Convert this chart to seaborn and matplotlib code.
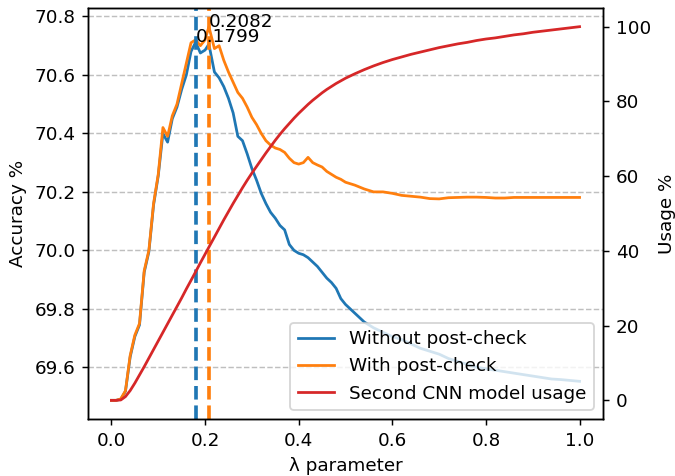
import numpy as np
import matplotlib
matplotlib.use('Agg')
import matplotlib.pyplot as plt
import seaborn as sns

# lambda values (peaks at 0.1799 and 0.2082 included)
lam = [0.00, 0.01, 0.02, 0.03, 0.04, 0.05, 0.06, 0.07, 0.08, 0.09,
       0.10, 0.11, 0.12, 0.13, 0.14, 0.15, 0.16, 0.17, 0.1799, 0.19,
       0.20, 0.2082, 0.22, 0.23, 0.24, 0.25, 0.26, 0.27, 0.28, 0.29,
       0.30, 0.31, 0.32, 0.33, 0.34, 0.35, 0.36, 0.37, 0.38, 0.39,
       0.40, 0.41, 0.42, 0.43, 0.44, 0.45, 0.46, 0.47, 0.48, 0.49,
       0.50, 0.52, 0.54, 0.56, 0.58, 0.60, 0.62, 0.64, 0.66, 0.68,
       0.70, 0.72, 0.74, 0.76, 0.78, 0.80, 0.82, 0.84, 0.86, 0.88,
       0.90, 0.92, 0.94, 0.96, 0.98, 1.00]

# accuracy without post-check
acc_without = [69.487, 69.487, 69.491, 69.518, 69.635, 69.705, 69.745, 69.925, 69.995, 70.155,
               70.255, 70.40, 70.37, 70.45, 70.49, 70.55, 70.60, 70.68, 70.712, 70.675,
               70.685, 70.705, 70.61, 70.59, 70.56, 70.52, 70.47, 70.39, 70.375, 70.33,
               70.28, 70.24, 70.195, 70.16, 70.13, 70.11, 70.085, 70.07, 70.02, 70.00,
               69.99, 69.985, 69.975, 69.96, 69.945, 69.925, 69.905, 69.89, 69.87, 69.835,
               69.815, 69.785, 69.755, 69.735, 69.72, 69.705, 69.695, 69.68, 69.665, 69.655,
               69.645, 69.63, 69.62, 69.61, 69.60, 69.595, 69.59, 69.585, 69.58, 69.575,
               69.57, 69.565, 69.56, 69.558, 69.555, 69.552]

# accuracy with post-check
acc_with = [69.487, 69.487, 69.492, 69.52, 69.64, 69.71, 69.75, 69.93, 70.00, 70.16,
            70.26, 70.42, 70.39, 70.46, 70.50, 70.57, 70.64, 70.71, 70.72, 70.70,
            70.72, 70.765, 70.69, 70.70, 70.65, 70.61, 70.575, 70.54, 70.52, 70.49,
            70.455, 70.43, 70.40, 70.375, 70.36, 70.35, 70.345, 70.335, 70.315, 70.30,
            70.295, 70.30, 70.318, 70.30, 70.292, 70.285, 70.27, 70.26, 70.25, 70.243,
            70.233, 70.223, 70.21, 70.20, 70.20, 70.195, 70.188, 70.185, 70.182, 70.177,
            70.176, 70.18, 70.181, 70.182, 70.182, 70.181, 70.179, 70.179, 70.181, 70.181,
            70.181, 70.181, 70.181, 70.181, 70.181, 70.181]

# second CNN model usage (%)
usage = [0.0, 0.0, 0.1, 1.0, 2.6, 4.6, 6.8, 9.0, 11.3, 13.6,
         15.9, 18.2, 20.5, 22.8, 25.1, 27.4, 29.8, 32.1, 34.4, 36.8,
         39.1, 41.0, 43.7, 46.0, 48.3, 50.5, 52.7, 54.8, 56.9, 58.9,
         60.8, 62.6, 64.4, 66.2, 67.9, 69.6, 71.2, 72.7, 74.1, 75.5,
         76.8, 78.0, 79.2, 80.3, 81.3, 82.3, 83.2, 84.0, 84.8, 85.5,
         86.2, 87.4, 88.5, 89.5, 90.4, 91.2, 91.9, 92.6, 93.2, 93.8,
         94.4, 94.9, 95.4, 95.8, 96.3, 96.7, 97.0, 97.4, 97.8, 98.1,
         98.5, 98.8, 99.1, 99.4, 99.7, 100.0]

dpi = 132
fig, ax = plt.subplots(figsize=(675 / dpi, 476 / dpi), dpi=dpi)
fig.subplots_adjust(left=0.1304, right=0.8933, bottom=0.1197, top=0.9832)

sns.lineplot(x=lam, y=acc_without, ax=ax, color='tab:blue', label='Without post-check')
sns.lineplot(x=lam, y=acc_with, ax=ax, color='tab:orange', label='With post-check')

# best lambda for each curve
i_wo = int(np.argmax(acc_without))
i_w = int(np.argmax(acc_with))
ax.axvline(lam[i_wo], color='tab:blue', linestyle='--', linewidth=2)
ax.axvline(lam[i_w], color='tab:orange', linestyle='--', linewidth=2)
ax.text(lam[i_wo], acc_without[i_wo], f'{lam[i_wo]:.4f}')
ax.text(lam[i_w], acc_with[i_w], f'{lam[i_w]:.4f}')

ax.grid(axis='y', linestyle='--', color='#b0b0b0', alpha=0.8)
ax.set_xlabel('λ parameter')
ax.set_ylabel('Accuracy %')

ax2 = ax.twinx()
sns.lineplot(x=lam, y=usage, ax=ax2, color='tab:red', label='Second CNN model usage')
ax2.set_ylabel('Usage %')

h1, l1 = ax.get_legend_handles_labels()
h2, l2 = ax2.get_legend_handles_labels()
ax.get_legend().remove()
ax2.legend(h1 + h2, l1 + l2, loc='lower right')

plt.savefig('out.png', dpi=dpi)
